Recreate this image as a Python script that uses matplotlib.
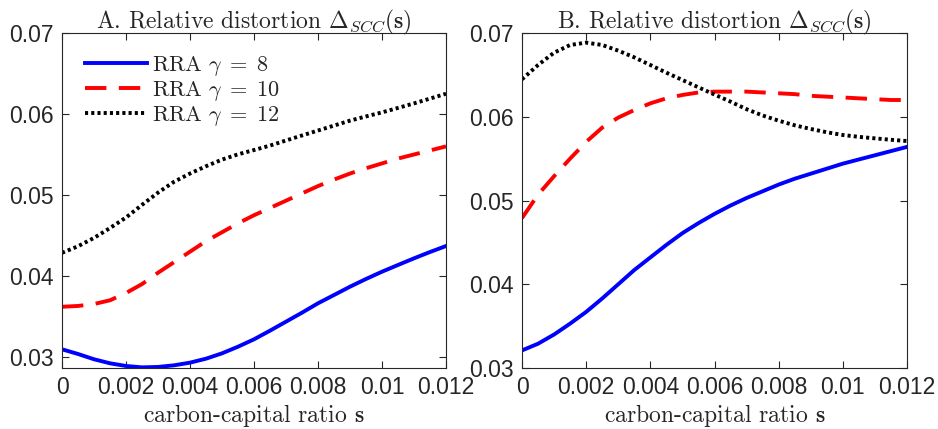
'''Relative distortion of the SCC against the carbon-capital ratio.'''

import matplotlib
matplotlib.use('Agg')
import matplotlib.pyplot as plt

plt.rcParams['mathtext.fontset'] = 'cm'
plt.rcParams['axes.unicode_minus'] = False

# Carbon-capital ratio grid (step 0.0005)
s_grid = [0.0, 0.0005, 0.001, 0.0015, 0.002, 0.0025, 0.003, 0.0035,
          0.004, 0.0045, 0.005, 0.0055, 0.006, 0.0065, 0.007, 0.0075,
          0.008, 0.0085, 0.009, 0.0095, 0.01, 0.0105, 0.011, 0.0115,
          0.012]

# Panel A
a_rra8 = [0.03095, 0.03037, 0.02972, 0.02922, 0.02889, 0.02872, 0.02877,
          0.02897, 0.0293, 0.02979, 0.03045, 0.03127, 0.03218, 0.03325,
          0.03436, 0.03547, 0.03663, 0.03765, 0.03868, 0.03963, 0.04053,
          0.04136, 0.04218, 0.04296, 0.0437]
a_rra10 = [0.0362, 0.0363, 0.03654, 0.0370, 0.0379, 0.0390, 0.0404,
           0.0417, 0.0430, 0.0443, 0.0454, 0.0465, 0.0475, 0.0484,
           0.0493, 0.0502, 0.0511, 0.0519, 0.05265, 0.0533, 0.0539,
           0.0545, 0.0550, 0.0555, 0.0560]
a_rra12 = [0.04286, 0.04367, 0.0447, 0.04592, 0.04722, 0.04878, 0.05029,
           0.05163, 0.05265, 0.05355, 0.05437, 0.05502, 0.05555, 0.0561,
           0.05673, 0.05735, 0.05796, 0.05857, 0.05918, 0.0597, 0.0602,
           0.06075, 0.06131, 0.0619, 0.0625]

# Panel B
b_rra8 = [0.0321, 0.0329, 0.0340, 0.0353, 0.0367, 0.0383, 0.0400,
          0.0417, 0.0432, 0.0447, 0.0461, 0.0473, 0.0484, 0.0494,
          0.0503, 0.0511, 0.0519, 0.0526, 0.0532, 0.0538, 0.0544,
          0.0549, 0.0554, 0.0559, 0.0564]
b_rra10 = [0.0479, 0.0507, 0.0529, 0.0550, 0.0570, 0.0587, 0.0599,
           0.0608, 0.0616, 0.0622, 0.0626, 0.0629, 0.0630, 0.0630,
           0.0630, 0.0629, 0.0628, 0.0627, 0.0625, 0.0624, 0.0623,
           0.0622, 0.0621, 0.0620, 0.0620]
b_rra12 = [0.06447, 0.06618, 0.06765, 0.06857, 0.06885, 0.06857, 0.06789,
           0.06709, 0.06618, 0.06526, 0.06439, 0.06351, 0.06265, 0.0618,
           0.0609, 0.06015, 0.05953, 0.05898, 0.05854, 0.05815, 0.05782,
           0.0576, 0.05742, 0.05725, 0.0571]

labels = [r'RRA $\gamma\;=\;8$', r'RRA $\gamma\;=\;10$',
          r'RRA $\gamma\;=\;12$']
x_ticks = [0, 0.002, 0.004, 0.006, 0.008, 0.01, 0.012]
x_ticklabels = ['0', '0.002', '0.004', '0.006', '0.008', '0.01', '0.012']
y_ticks = [0.03, 0.04, 0.05, 0.06, 0.07]
y_ticklabels = ['0.03', '0.04', '0.05', '0.06', '0.07']

serif = 'cmr10'
dash = (0, (5.5, 3.2))
dots = (0, (0.8, 0.8))
lw = 2.8


def style_axes(ax, ylim, title):
    '''MATLAB-like boxed axes with inward ticks.'''
    ax.set_xlim(0, 0.012)
    ax.set_ylim(*ylim)
    ax.set_xticks(x_ticks)
    ax.set_xticklabels(x_ticklabels)
    ax.set_yticks(y_ticks)
    ax.set_yticklabels(y_ticklabels)
    ax.tick_params(direction='in', top=True, right=True, length=5,
                   labelsize=16.5, color='#262626', labelcolor='#262626',
                   pad=6)
    for lab in ax.get_xticklabels() + ax.get_yticklabels():
        lab.set_family('Liberation Sans')
    for sp in ax.spines.values():
        sp.set_color('#262626')
        sp.set_linewidth(0.8)
    ax.set_title(title, family=serif, fontsize=17, pad=3, color='#262626')
    ax.set_xlabel(r'carbon-capital ratio $\mathbf{s}$', family=serif,
                  fontsize=17, labelpad=2, color='#262626')


fig = plt.figure(figsize=(9.38, 4.29), dpi=100)
ax1 = fig.add_axes([62 / 938, 1 - 368 / 429, 384 / 938, 335 / 429])
ax2 = fig.add_axes([522 / 938, 1 - 368 / 429, 385 / 938, 335 / 429])

ax1.plot(s_grid, a_rra8, color='#0000ff', lw=lw, label=labels[0])
ax1.plot(s_grid, a_rra10, color='#ff0000', lw=lw, ls=dash, label=labels[1])
ax1.plot(s_grid, a_rra12, color='black', lw=lw, ls=dots, label=labels[2])

ax2.plot(s_grid, b_rra8, color='#0000ff', lw=lw)
ax2.plot(s_grid, b_rra10, color='#ff0000', lw=lw, ls=dash)
ax2.plot(s_grid, b_rra12, color='black', lw=lw, ls=dots)

style_axes(ax1, (0.02864, 0.07),
           r'A. Relative distortion $\Delta_{SCC}(\mathbf{s})$')
style_axes(ax2, (0.03, 0.07),
           r'B. Relative distortion $\Delta_{SCC}(\mathbf{s})$')

leg = ax1.legend(loc='upper left', frameon=False, fontsize=16,
                 handlelength=2.8, handletextpad=0.2, labelspacing=0.05,
                 borderaxespad=0.3, bbox_to_anchor=(0.02, 0.985))
for t in leg.get_texts():
    t.set_family(serif)
    t.set_color('#262626')

fig.savefig('out.png', dpi=100)
